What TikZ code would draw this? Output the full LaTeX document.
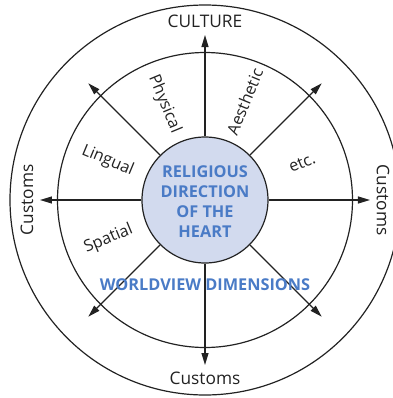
\documentclass[tikz,border=0pt]{standalone}
\usepackage{fontspec}
\setmainfont{Open Sans}
\usetikzlibrary{arrows.meta}
\definecolor{ink}{HTML}{222222}
\definecolor{heartfill}{HTML}{D2DAEE}
\definecolor{heartblue}{HTML}{4A7BC6}
\tikzset{
  ring/.style={draw=ink, line width=1.2bp},
  spoke/.style={draw=ink, line width=1.1bp, -{Triangle[length=12bp,width=7bp]}},
  outerlabel/.style={font=\fontsize{17.3bp}{20bp}\selectfont, text=ink, inner sep=0pt},
  dimlabel/.style={font=\fontsize{16.3bp}{19bp}\selectfont, text=ink, inner sep=0pt},
  bluelabel/.style={font=\fontsize{16.3bp}{20bp}\selectfont\bfseries, text=heartblue, inner sep=0pt, align=center}
}
\begin{document}
\begin{tikzpicture}[x=1bp,y=1bp]
\useasboundingbox (-205,-198) rectangle (188,200);
\clip (-205,-198) rectangle (188,200);
\draw[ring] (0,0) circle (195);
\draw[ring] (0,0) circle (147.5);
\node[circle, ring, fill=heartfill, minimum size=126bp, inner sep=0pt] (heart) at (0,0) {};
\node[bluelabel] (heartText) at (0,-2) {RELIGIOUS\\DIRECTION\\OF THE\\HEART};
\foreach \a in {0,45,...,315} {
  \coordinate (tip\a) at (\a:165);
  \draw[spoke] (heart.\a) -- (tip\a);
}
\node[outerlabel] (culture) at (0,178.5) {CULTURE};
\node[outerlabel] (custB) at (0,-178.5) {Customs};
\node[outerlabel, rotate=90] (custL) at (-178,0) {Customs};
\node[outerlabel, rotate=-90] (custR) at (178,0) {Customs};
\node[dimlabel, rotate=-67.5] (physical) at (113:104) {Physical};
\node[dimlabel, rotate=67.5] (aesthetic) at (68:106) {Aesthetic};
\node[dimlabel, rotate=-22.5] (lingual) at (158:105) {Lingual};
\node[dimlabel, rotate=22.5] (etc) at (21:104) {etc.};
\node[dimlabel, rotate=22.5] (spatial) at (202:104) {Spatial};
\node[bluelabel] (worldview) at (0,-85) {WORLDVIEW DIMENSIONS};
\end{tikzpicture}
\end{document}
